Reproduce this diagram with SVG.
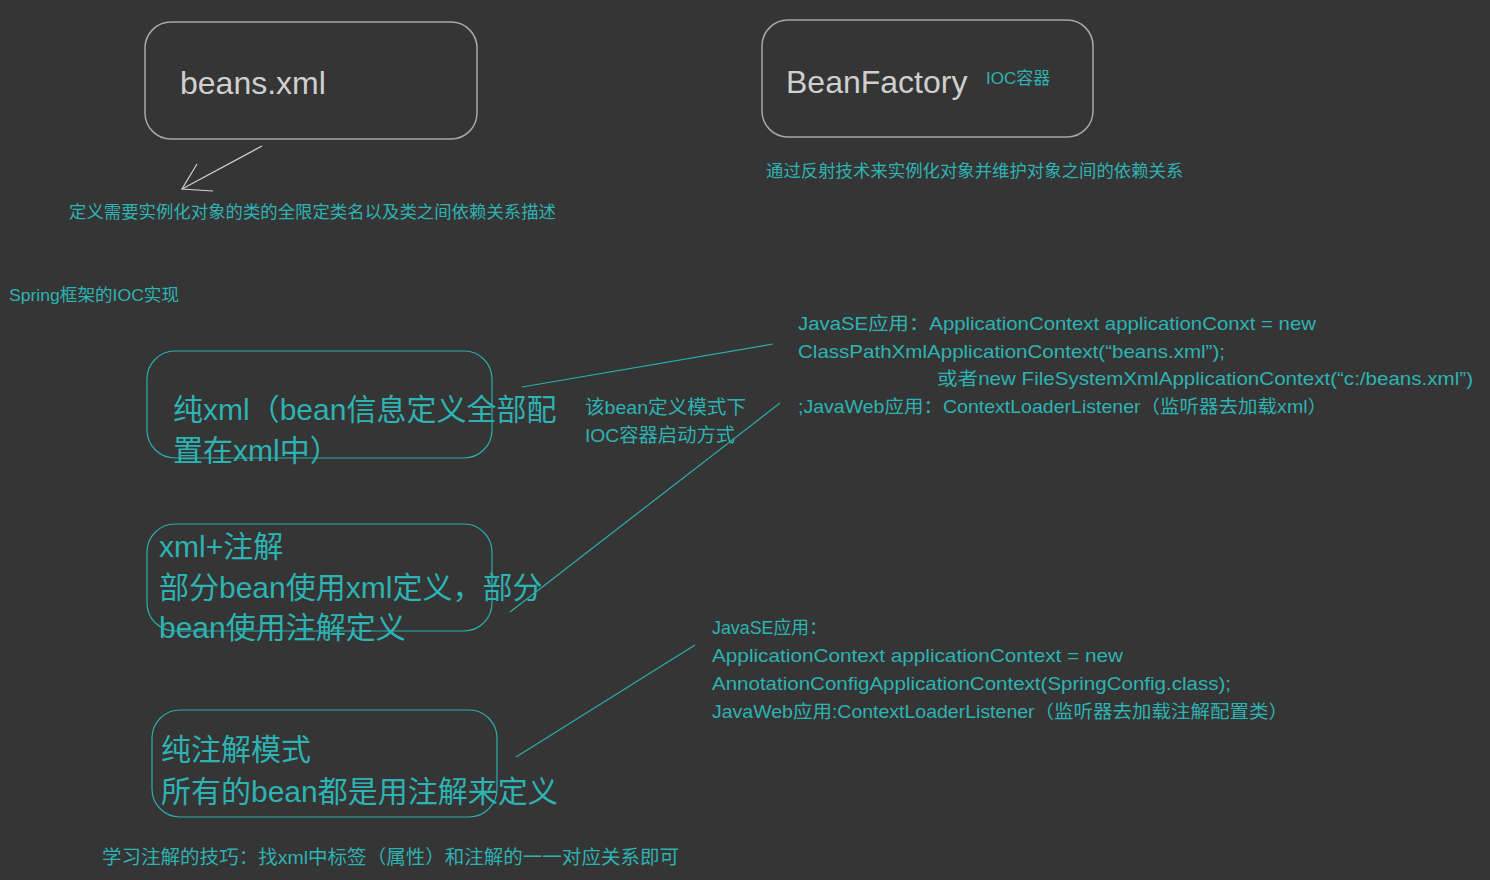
<svg xmlns="http://www.w3.org/2000/svg" width="1490" height="880" viewBox="0 0 1490 880">
<style>
.bg{fill:#353535}
.gbox{fill:none;stroke:#a8a8a8;stroke-width:1.5}
.tbox{fill:none;stroke:#2aaeae;stroke-width:1.2}
.big{font-family:"Liberation Sans","Noto Sans CJK SC",sans-serif;font-size:32px;fill:#cfcfcf}
.t{font-family:"Liberation Sans","Noto Sans CJK SC",sans-serif;fill:#2db3b3}
.conn{stroke:#2aaeae;stroke-width:1.2;fill:none}
.arrow{stroke:#d0d0d0;stroke-width:1.2;fill:none}
</style>
<rect class="bg" x="0" y="0" width="1490" height="880"/>
<g id="beans-xml">
<rect class="gbox" x="145" y="22" width="332" height="117" rx="26"/>
<text class="big" x="180" y="94">beans.xml</text>
</g>
<g id="beans-desc">
<text class="t" x="69" y="218" font-size="17.4">定义需要实例化对象的类的全限定类名以及类之间依赖关系描述</text>
</g>
<g id="beanfactory">
<rect class="gbox" x="762" y="20" width="331" height="117" rx="26"/>
<text class="big" x="786" y="93">BeanFactory</text>
<text class="t" x="986" y="84" font-size="17">IOC容器</text>
</g>
<g id="beanfactory-desc">
<text class="t" x="766" y="177" font-size="17.4">通过反射技术来实例化对象并维护对象之间的依赖关系</text>
</g>
<g id="spring-ioc">
<text class="t" x="9" y="301" font-size="17" textLength="170" lengthAdjust="spacingAndGlyphs">Spring框架的IOC实现</text>
</g>
<g id="pure-xml">
<rect class="tbox" x="147" y="351" width="345" height="107" rx="28"/>
<text class="t" x="173" y="420" font-size="30">纯xml（bean信息定义全部配</text>
<text class="t" x="173" y="461" font-size="30">置在xml中）</text>
</g>
<g id="startup-label">
<text class="t" x="585" y="414" font-size="19" textLength="161" lengthAdjust="spacingAndGlyphs">该bean定义模式下</text>
<text class="t" x="585" y="442" font-size="19" textLength="150" lengthAdjust="spacingAndGlyphs">IOC容器启动方式</text>
</g>
<g id="xml-startup">
<text class="t" x="798" y="330" font-size="18.5" textLength="518" lengthAdjust="spacingAndGlyphs">JavaSE应用：ApplicationContext applicationConxt = new</text>
<text class="t" x="798" y="358" font-size="18.5" textLength="427" lengthAdjust="spacingAndGlyphs">ClassPathXmlApplicationContext(“beans.xml”);</text>
<text class="t" x="937" y="385" font-size="18.5" textLength="536" lengthAdjust="spacingAndGlyphs">或者new FileSystemXmlApplicationContext(“c:/beans.xml”)</text>
<text class="t" x="798" y="413" font-size="18.5" textLength="529" lengthAdjust="spacingAndGlyphs">;JavaWeb应用：ContextLoaderListener（监听器去加载xml）</text>
</g>
<g id="xml-annotation">
<rect class="tbox" x="147" y="524" width="345" height="107" rx="28"/>
<text class="t" x="159" y="557" font-size="30">xml+注解</text>
<text class="t" x="159" y="598" font-size="30">部分bean使用xml定义，部分</text>
<text class="t" x="159" y="638" font-size="30">bean使用注解定义</text>
</g>
<g id="annotation-startup">
<text class="t" x="712" y="634" font-size="18.5" textLength="115" lengthAdjust="spacingAndGlyphs">JavaSE应用：</text>
<text class="t" x="712" y="662" font-size="18.5" textLength="411" lengthAdjust="spacingAndGlyphs">ApplicationContext applicationContext = new</text>
<text class="t" x="712" y="690" font-size="18.5" textLength="519" lengthAdjust="spacingAndGlyphs">AnnotationConfigApplicationContext(SpringConfig.class);</text>
<text class="t" x="712" y="718" font-size="18.5" textLength="576" lengthAdjust="spacingAndGlyphs">JavaWeb应用:ContextLoaderListener（监听器去加载注解配置类）</text>
</g>
<g id="pure-annotation">
<rect class="tbox" x="152" y="710" width="345" height="107" rx="28"/>
<text class="t" x="161" y="760" font-size="30">纯注解模式</text>
<text class="t" x="161" y="802" font-size="30">所有的bean都是用注解来定义</text>
</g>
<g id="tip">
<text class="t" x="102" y="864" font-size="19" textLength="577" lengthAdjust="spacingAndGlyphs">学习注解的技巧：找xml中标签（属性）和注解的一一对应关系即可</text>
</g>
<g id="connectors">
<line class="arrow" x1="262" y1="146" x2="182" y2="189"/>
<polyline class="arrow" points="197,164 182,189 213,191"/>
<line class="conn" x1="522" y1="387" x2="773" y2="344"/>
<line class="conn" x1="510" y1="612" x2="780" y2="403"/>
<line class="conn" x1="516" y1="757" x2="695" y2="645"/>
</g>
</svg>
